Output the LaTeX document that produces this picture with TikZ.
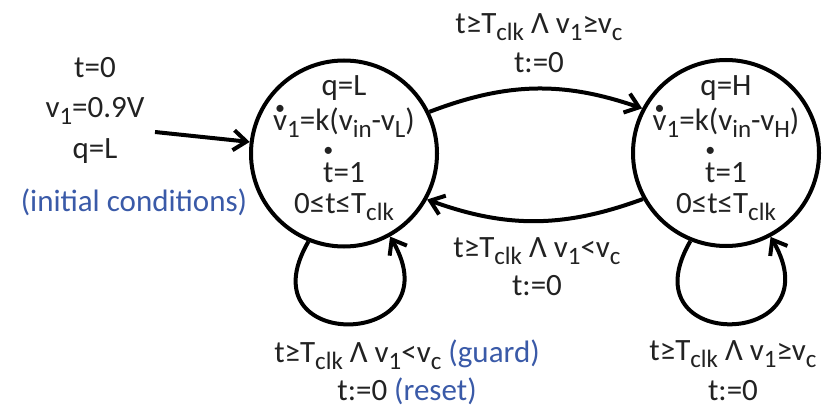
\documentclass[tikz,border=0pt]{standalone}
\usepackage{fontspec}
\setmainfont{Carlito}
\usetikzlibrary{arrows.meta}
\definecolor{Ink}{HTML}{222222}
\definecolor{Note}{HTML}{3A5AA8}
\newcommand\sub[1]{\raisebox{-0.24em}{\fontsize{12.5}{12.5}\selectfont #1}}
\newcommand\ovdot[2]{\leavevmode\setbox0\hbox{#2}\rlap{\hbox to\wd0{\hss\raisebox{#1}[0pt][0pt]{\fontsize{10}{10}\selectfont •}\hss}}#2}

\begin{document}
\begin{tikzpicture}[
  x=0.5pt,y=-0.5pt,
  state/.style={circle,draw=black,line width=2pt,minimum size=93pt,inner sep=0pt},
  lbl/.style={align=center,inner sep=0pt,text=Ink,font=\fontsize{15.5}{17.5}\selectfont},
  arrow/.style={-{Straight Barb[length=6.5pt,width=10pt]},line width=2pt}
]
\useasboundingbox (0,0) rectangle (824,411);
\node[state] (L) at (344,153.5) {};
\node[state] (H) at (726,153) {};
\node[lbl,anchor=north] (Ltext) at (344,75) {q=L\\ \ovdot{8pt}{v}\sub{1}=k(v\sub{in}-v\sub{L})\\[8.5pt] \ovdot{13pt}{t}=1\\[-2pt] 0≤t≤T\sub{clk}};
\node[lbl,anchor=north] (Htext) at (726,75) {q=H\\ \ovdot{8pt}{v}\sub{1}=k(v\sub{in}-v\sub{H})\\[8.5pt] \ovdot{13pt}{t}=1\\[-2pt] 0≤t≤T\sub{clk}};
% initial conditions
\node[lbl,anchor=north] (init) at (95,56.5) {t=0\\[2.5pt] v\sub{1}=0.9V\\[3pt] q=L};
\node[lbl,anchor=north,text=Note] (initnote) at (134,188) {(initial conditions)};
\coordinate (start) at (155,132);
% transition labels
\node[lbl,anchor=north] (upLbl) at (539,13) {t≥T\sub{clk} Λ v\sub{1}≥v\sub{c}\\[2pt] t:=0};
\node[lbl,anchor=north] (midLbl) at (537,237) {t≥T\sub{clk} Λ v\sub{1}<v\sub{c}\\[1.5pt] t:=0};
\node[lbl,anchor=north] (loopL) at (407,339) {t≥T\sub{clk} Λ v\sub{1}<v\sub{c} \textcolor{Note}{(guard)}\\[1.5pt] t:=0 \textcolor{Note}{(reset)}};
\node[lbl,anchor=north] (loopH) at (733,340) {t≥T\sub{clk} Λ v\sub{1}≥v\sub{c}\\[2.5pt] t:=0};
% edges
\draw[arrow] (start) -- (L.173.6);
\draw[arrow] (L.26.6) to[bend left=20] (H.152.4);
\draw[arrow] (H.209.2) to[bend left=20] (L.-29.4);
\draw[arrow] (L.-112) .. controls +(-66,113) and +(66,113) .. (L.-61);
\draw[arrow] (H.-112.4) .. controls +(-66,113) and +(66,113) .. (H.-62);
\end{tikzpicture}
\end{document}
